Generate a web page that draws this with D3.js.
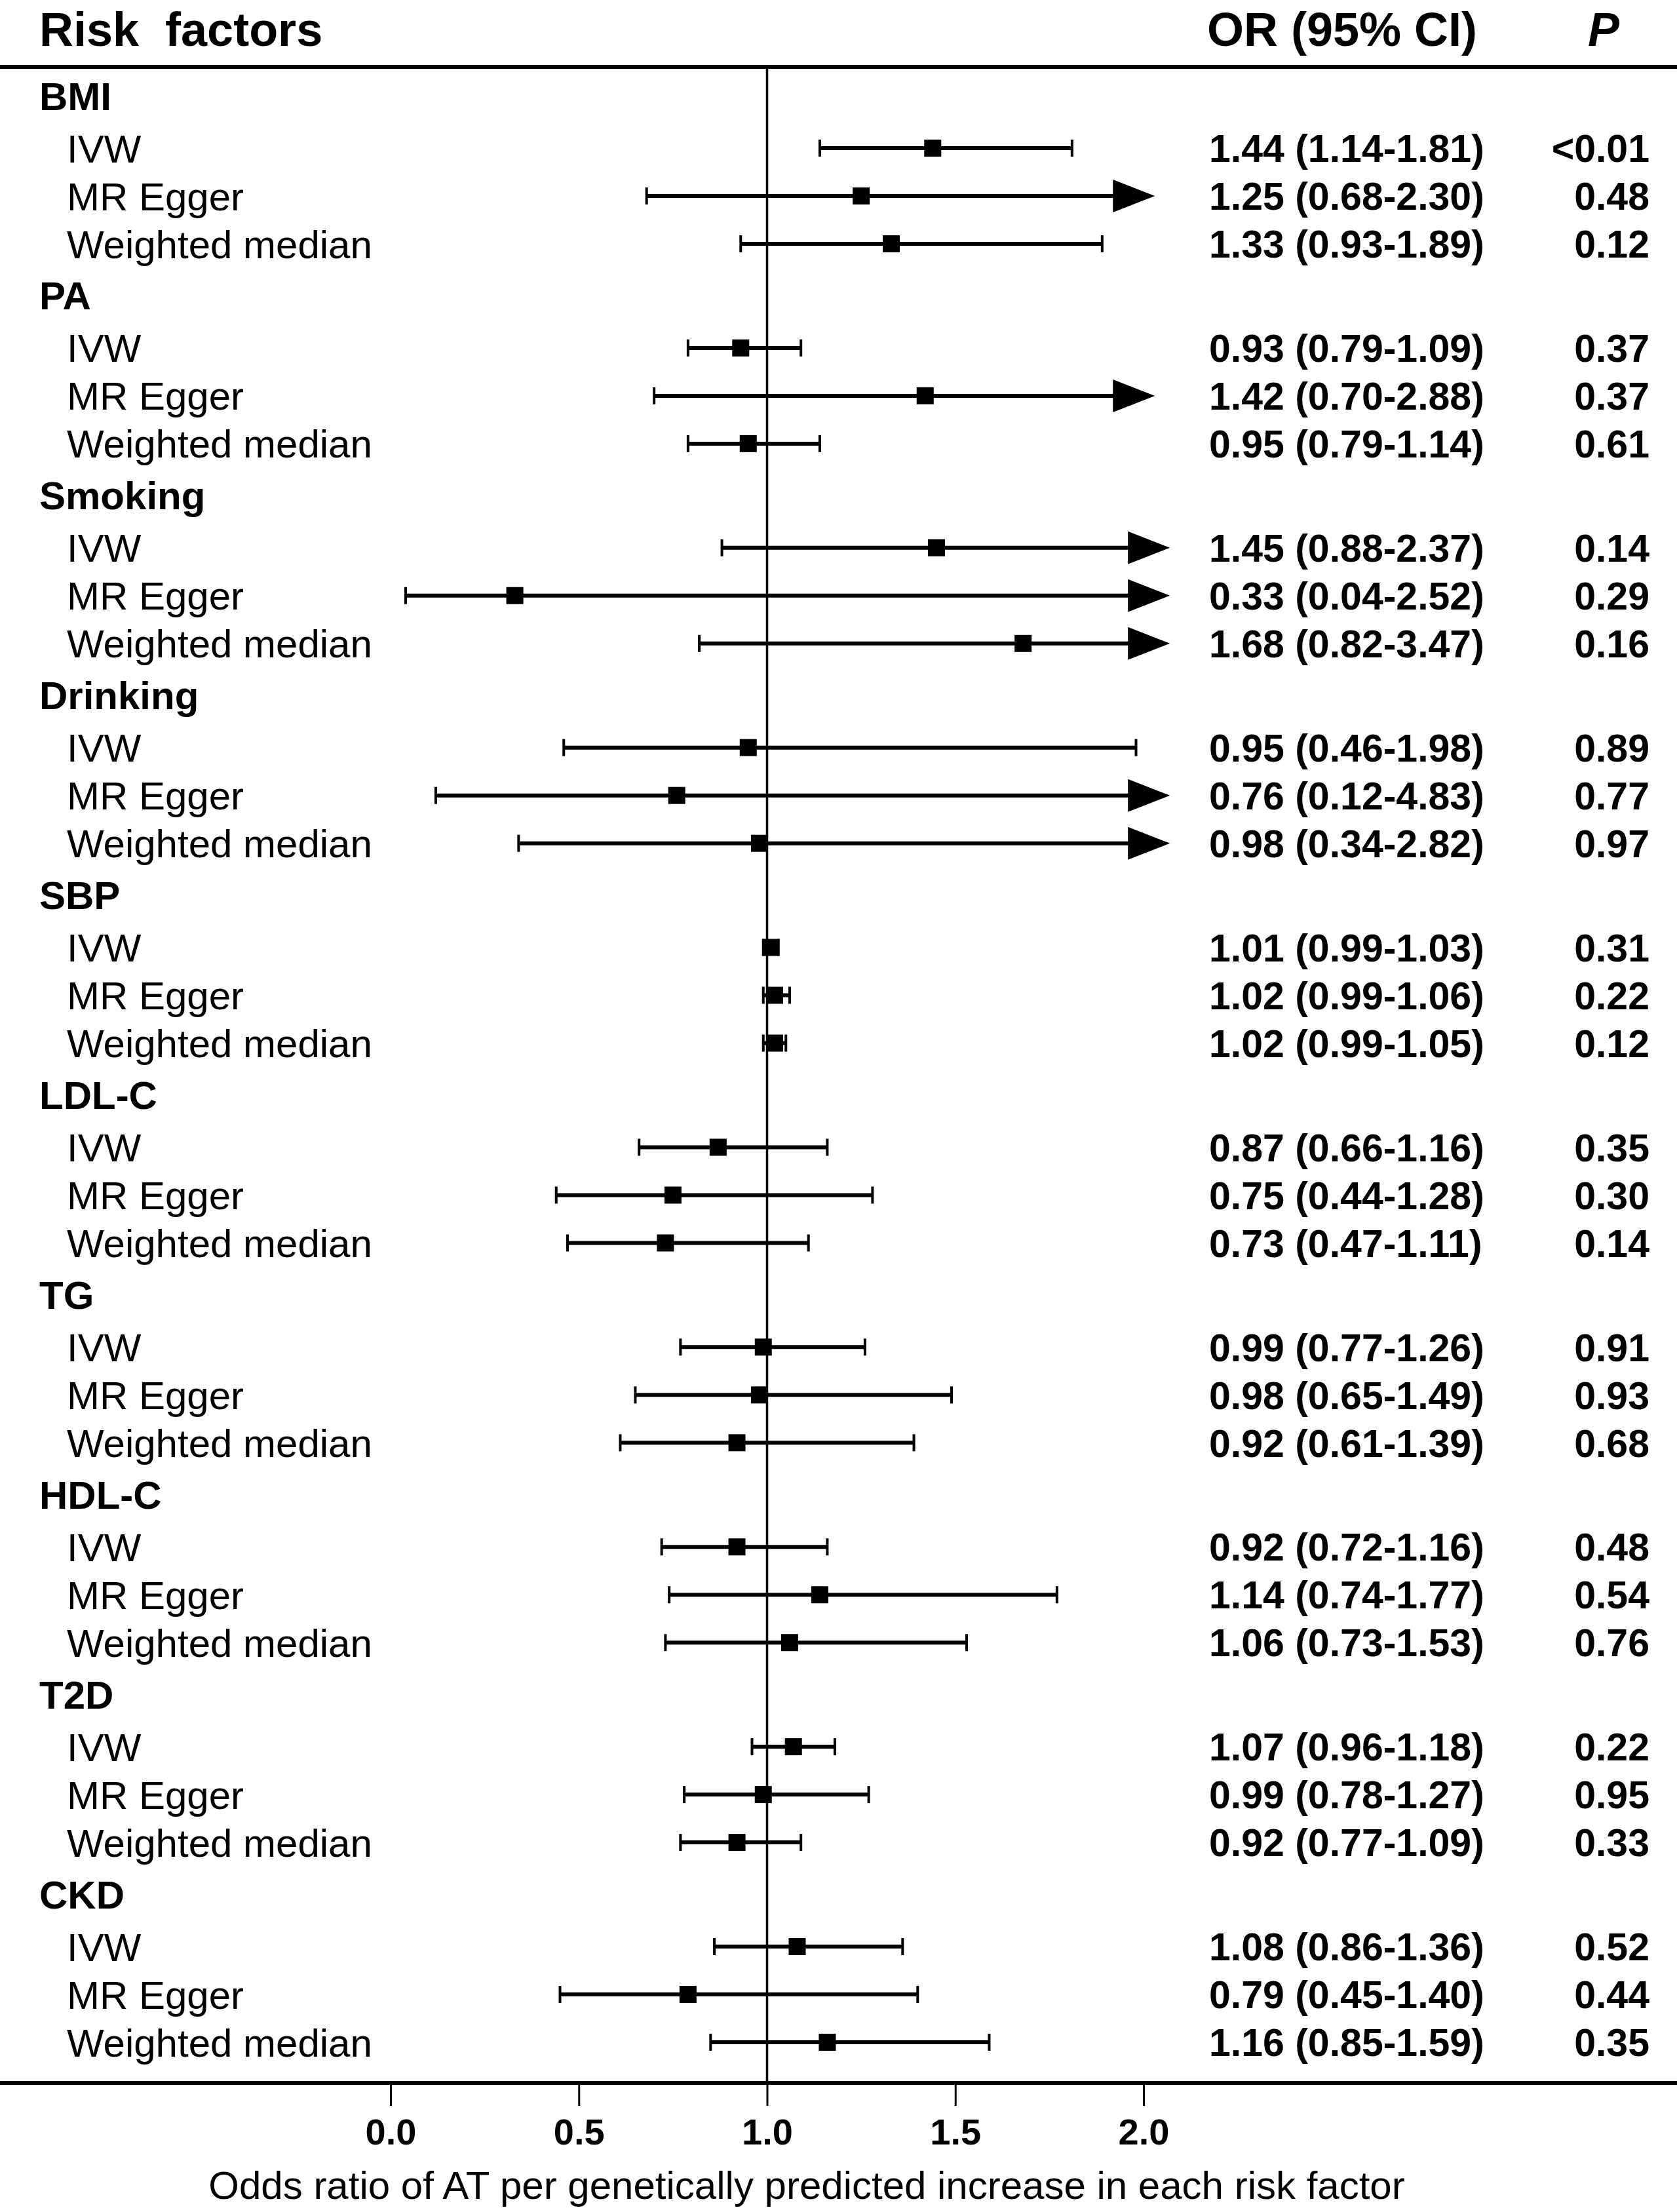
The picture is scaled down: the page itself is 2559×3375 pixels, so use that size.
<!DOCTYPE html>
<html>
<head>
<meta charset="utf-8">
<script src="https://cdn.jsdelivr.net/npm/d3@7"></script>
<style>
  body { margin: 0; background: #fff; }
  text { font-family: "Liberation Sans", Arial, sans-serif; fill: #000; }
</style>
</head>
<body>
<svg id="chart"></svg>
<script>
// risk factors and MR methods
var groups = ["BMI", "PA", "Smoking", "Drinking", "SBP", "LDL-C", "TG", "HDL-C", "T2D", "CKD"];
var methods = ["IVW", "MR Egger", "Weighted median"];

// odds ratio and 95% CI per group, in the order of methods
var oddsRatio = [
  [1.44, 1.25, 1.33], [0.93, 1.42, 0.95], [1.45, 0.33, 1.68], [0.95, 0.76, 0.98], [1.01, 1.02, 1.02],
  [0.87, 0.75, 0.73], [0.99, 0.98, 0.92], [0.92, 1.14, 1.06], [1.07, 0.99, 0.92], [1.08, 0.79, 1.16]
];
var ciLower = [
  [1.14, 0.68, 0.93], [0.79, 0.70, 0.79], [0.88, 0.04, 0.82], [0.46, 0.12, 0.34], [0.99, 0.99, 0.99],
  [0.66, 0.44, 0.47], [0.77, 0.65, 0.61], [0.72, 0.74, 0.73], [0.96, 0.78, 0.77], [0.86, 0.45, 0.85]
];
var ciUpper = [
  [1.81, 2.30, 1.89], [1.09, 2.88, 1.14], [2.37, 2.52, 3.47], [1.98, 4.83, 2.82], [1.03, 1.06, 1.05],
  [1.16, 1.28, 1.11], [1.26, 1.49, 1.39], [1.16, 1.77, 1.53], [1.18, 1.27, 1.09], [1.36, 1.40, 1.59]
];
var pValues = [
  ["<0.01", "0.48", "0.12"], ["0.37", "0.37", "0.61"], ["0.14", "0.29", "0.16"], ["0.89", "0.77", "0.97"],
  ["0.31", "0.22", "0.12"], ["0.35", "0.30", "0.14"], ["0.91", "0.93", "0.68"], ["0.48", "0.54", "0.76"],
  ["0.22", "0.95", "0.33"], ["0.52", "0.44", "0.35"]
];
// where the truncated CIs end in an arrow (OR scale)
var arrowTip = [2.03, 2.03, 2.07, 2.07, 2.07, 2.07, 2.07, 2.07, 2.07, 2.07];
var xTicks = [0, 0.5, 1.0, 1.5, 2.0];
var xTitle = "Odds ratio of AT per genetically predicted increase in each risk factor";

var W = 2559, H = 3375;
var topLineY = 102, bottomLineY = 3178;

var svg = d3.select("#chart").attr("width", W).attr("height", H);

var x = d3.scaleLinear().domain([0, 2]).range([596, 1745]);
// group label rows, and method rows offset inside a group
var yGroup = d3.scalePoint().domain(groups).range([146, 2890]);
var yMethod = d3.scalePoint().domain(methods).range([80, 226]);

var rows = [];
groups.forEach(function(g, gi){
  rows.push({ group: true, label: g, y: yGroup(g) });
  methods.forEach(function(m, mi){
    rows.push({
      group: false, label: m, y: yGroup(g) + yMethod(m),
      or: oddsRatio[gi][mi], lo: ciLower[gi][mi], hi: ciUpper[gi][mi],
      p: pValues[gi][mi], tip: arrowTip[gi]
    });
  });
});
var est = rows.filter(function(r){ return !r.group; });

// header
svg.append("text").attr("x", 60).attr("y", 70)
  .style("font-size", "72px").style("font-weight", "bold").style("white-space", "pre")
  .text("Risk  factors");
svg.append("text").attr("x", 1842).attr("y", 70)
  .style("font-size", "72px").style("font-weight", "bold")
  .text("OR (95% CI)");
svg.append("text").attr("x", 2447).attr("y", 70).attr("text-anchor", "middle")
  .style("font-size", "72px").style("font-weight", "bold").style("font-style", "italic")
  .text("P");

// horizontal rules
[topLineY, bottomLineY].forEach(function(ly){
  svg.append("line").attr("x1", 0).attr("x2", W).attr("y1", ly).attr("y2", ly)
    .attr("stroke", "#000").attr("stroke-width", 6);
});

// line of no effect
svg.append("line").attr("x1", x(1)).attr("x2", x(1)).attr("y1", topLineY).attr("y2", bottomLineY)
  .attr("stroke", "#000").attr("stroke-width", 3.5);

// row labels
svg.selectAll("text.lab").data(rows).enter().append("text").attr("class", "lab")
  .attr("x", function(d){ return d.group ? 60 : 102; })
  .attr("y", function(d){ return d.y; })
  .attr("dy", "0.36em")
  .style("font-size", "60px")
  .style("font-weight", function(d){ return d.group ? "bold" : "normal"; })
  .text(function(d){ return d.label; });

// CI lines
var ci = svg.append("g");
ci.selectAll("line.ci").data(est).enter().append("line").attr("class", "ci")
  .attr("x1", function(d){ return x(d.lo); })
  .attr("x2", function(d){ return d.hi > d.tip ? x(d.tip) - 60 : x(d.hi); })
  .attr("y1", function(d){ return d.y; })
  .attr("y2", function(d){ return d.y; })
  .attr("stroke", "#000").attr("stroke-width", 6);

// end caps
ci.selectAll("line.capL").data(est).enter().append("line").attr("class", "capL")
  .attr("x1", function(d){ return x(d.lo); }).attr("x2", function(d){ return x(d.lo); })
  .attr("y1", function(d){ return d.y - 13; }).attr("y2", function(d){ return d.y + 13; })
  .attr("stroke", "#000").attr("stroke-width", 4);
ci.selectAll("line.capR").data(est.filter(function(d){ return d.hi <= d.tip; })).enter()
  .append("line").attr("class", "capR")
  .attr("x1", function(d){ return x(d.hi); }).attr("x2", function(d){ return x(d.hi); })
  .attr("y1", function(d){ return d.y - 13; }).attr("y2", function(d){ return d.y + 13; })
  .attr("stroke", "#000").attr("stroke-width", 4);

// arrows for CIs running off the scale
ci.selectAll("path.arrow").data(est.filter(function(d){ return d.hi > d.tip; })).enter()
  .append("path").attr("class", "arrow")
  .attr("d", function(d){
    var tx = x(d.tip), cy = d.y;
    return "M" + tx + "," + cy + "L" + (tx - 64) + "," + (cy - 25) + "L" + (tx - 64) + "," + (cy + 25) + "Z";
  })
  .attr("fill", "#000");

// point estimates
ci.selectAll("rect.pt").data(est).enter().append("rect").attr("class", "pt")
  .attr("x", function(d){ return x(d.or) - 13; })
  .attr("y", function(d){ return d.y - 13; })
  .attr("width", 26).attr("height", 26)
  .attr("fill", "#000");

// OR (95% CI) and P columns
svg.selectAll("text.orci").data(est).enter().append("text").attr("class", "orci")
  .attr("x", 1845).attr("y", function(d){ return d.y; }).attr("dy", "0.36em")
  .style("font-size", "59px").style("font-weight", "bold")
  .text(function(d){ return d.or.toFixed(2) + " (" + d.lo.toFixed(2) + "-" + d.hi.toFixed(2) + ")"; });
svg.selectAll("text.pv").data(est).enter().append("text").attr("class", "pv")
  .attr("x", 2517).attr("y", function(d){ return d.y; }).attr("dy", "0.36em")
  .attr("text-anchor", "end")
  .style("font-size", "59px").style("font-weight", "bold")
  .text(function(d){ return d.p; });

// x axis
var axis = svg.append("g").attr("transform", "translate(0," + bottomLineY + ")")
  .call(d3.axisBottom(x).tickValues(xTicks).tickFormat(d3.format(".1f")).tickSize(35).tickPadding(19));
axis.select(".domain").remove();
axis.selectAll(".tick line").attr("stroke", "#000").attr("stroke-width", 3);
axis.selectAll(".tick text")
  .style("font-size", "56px").style("font-weight", "bold")
  .style("font-family", "'Liberation Sans', Arial, sans-serif").attr("fill", "#000");

svg.append("text").attr("x", 1231).attr("y", 3333).attr("dy", "0.36em").attr("text-anchor", "middle")
  .style("font-size", "60px")
  .text(xTitle);
</script>
</body>
</html>
